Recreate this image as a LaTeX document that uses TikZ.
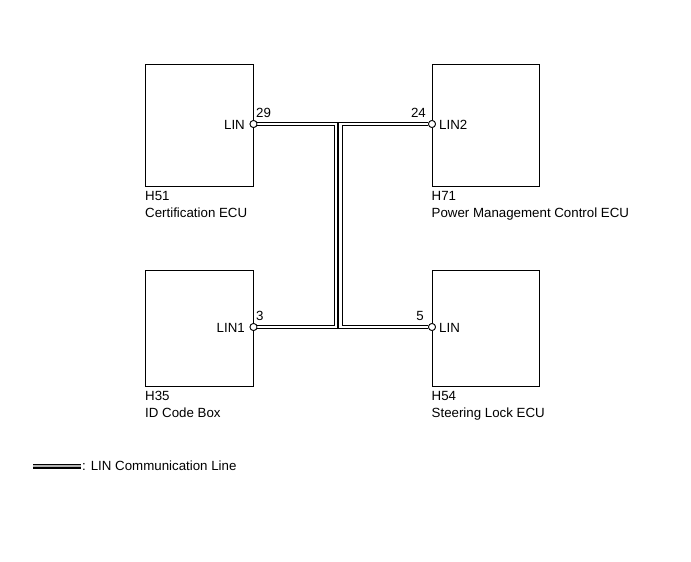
\documentclass[tikz,border=0pt]{standalone}
\usepackage{fontspec}
\setmainfont{Liberation Sans}
\usetikzlibrary{calc}
\begin{document}
\begin{tikzpicture}[x=1pt,y=-1pt,
  ecu/.style={draw=black, line width=1pt, inner sep=0pt},
  pincirc/.style={circle, draw=black, fill=white, line width=0.8pt, minimum size=7pt, inner sep=0pt},
  lin/.style={draw=black, line width=1.1pt, double=white, double distance=2.2pt},
  linlegend/.style={draw=black, line width=1.2pt, double=black!30, double distance=2.6pt},
  txt/.style={font=\fontsize{13.3}{15}\selectfont, inner sep=0pt},
  captext/.style={txt, anchor=base west}]
\useasboundingbox (0,0) rectangle (691,562);
% boxes
\node[ecu, minimum width=108pt, minimum height=122pt] (b1) at (199.5,125) {};
\node[ecu, minimum width=107pt, minimum height=122pt] (b2) at (485.5,125) {};
\node[ecu, minimum width=108pt, minimum height=116pt] (b3) at (199.5,328) {};
\node[ecu, minimum width=107pt, minimum height=116pt] (b4) at (485.5,328) {};
% captions
\node[captext] (t1) at ($(b1.south west)+(0,13.5)$) {H51};
\node[captext] (t1b) at ($(t1.base west)+(0,17.4)$) {Certification ECU};
\node[captext] (t2) at ($(b2.south west)+(0,13.5)$) {H71};
\node[captext] (t2b) at ($(t2.base west)+(0,17.4)$) {Power Management Control ECU};
\node[captext] (t3) at ($(b3.south west)+(0,13.5)$) {H35};
\node[captext] (t3b) at ($(t3.base west)+(0,17.4)$) {ID Code Box};
\node[captext] (t4) at ($(b4.south west)+(0,13.5)$) {H54};
\node[captext] (t4b) at ($(t4.base west)+(0,17.4)$) {Steering Lock ECU};
% wire corners
\coordinate (ja) at (336.0,124);
\coordinate (jb) at (336.0,327);
\coordinate (jc) at (340.4,124);
\coordinate (jd) at (340.4,327);
% pins
\node[pincirc] (c1) at (253.5,124) {};
\node[pincirc] (c2) at (432,124) {};
\node[pincirc] (c3) at (253.5,327) {};
\node[pincirc] (c4) at (432,327) {};
% wires
\draw[lin] (c1.east) -- (ja) -- (jb) -- (c3.east);
\draw[lin] (c2.west) -- (jc) -- (jd) -- (c4.west);
\node[pincirc] at (c1) {};
\node[pincirc] at (c2) {};
\node[pincirc] at (c3) {};
\node[pincirc] at (c4) {};
% pin labels
\node[txt, anchor=base east] (l1) at (245,129) {LIN};
\node[txt, anchor=base west] (l2) at (439,129) {LIN2};
\node[txt, anchor=base east] (l3) at (245,332) {LIN1};
\node[txt, anchor=base west] (l4) at (439,332) {LIN};
\node[txt, anchor=base west] (n1) at (256,117) {29};
\node[txt, anchor=base east] (n2) at (426,117) {24};
\node[txt, anchor=base west] (n3) at (256,320) {3};
\node[txt, anchor=base east] (n4) at (424,320) {5};
% legend
\coordinate (lga) at (33,466);
\coordinate (lgb) at (81,466);
\draw[linlegend] (lga) -- (lgb);
\node[txt, anchor=west] (lgt) at (82,466) {: LIN Communication Line};
\end{tikzpicture}
\end{document}
